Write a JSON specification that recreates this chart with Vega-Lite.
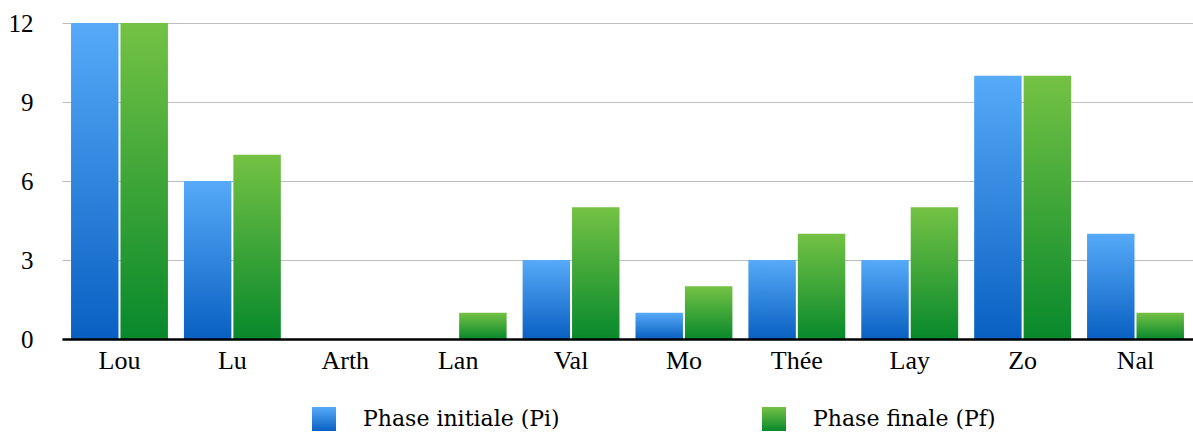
{
  "$schema": "https://vega.github.io/schema/vega-lite/v6.json",
  "width": 1131,
  "height": 316,
  "autosize": {"type": "none"},
  "padding": {"left": 62, "top": 23, "right": 0, "bottom": 95},
  "background": "white",
  "config": {
    "view": {"stroke": null},
    "font": "Liberation Serif",
    "style": {"guide-label": {"font": "Liberation Serif"}},
    "legend": {"labelFont": "Liberation Serif"}
  },
  "data": {
    "values": [
      {"name": "Lou", "phase": "Phase initiale (Pi)", "value": 12},
      {"name": "Lou", "phase": "Phase finale (Pf)", "value": 12},
      {"name": "Lu", "phase": "Phase initiale (Pi)", "value": 6},
      {"name": "Lu", "phase": "Phase finale (Pf)", "value": 7},
      {"name": "Arth", "phase": "Phase initiale (Pi)", "value": 0},
      {"name": "Arth", "phase": "Phase finale (Pf)", "value": 0},
      {"name": "Lan", "phase": "Phase initiale (Pi)", "value": 0},
      {"name": "Lan", "phase": "Phase finale (Pf)", "value": 1},
      {"name": "Val", "phase": "Phase initiale (Pi)", "value": 3},
      {"name": "Val", "phase": "Phase finale (Pf)", "value": 5},
      {"name": "Mo", "phase": "Phase initiale (Pi)", "value": 1},
      {"name": "Mo", "phase": "Phase finale (Pf)", "value": 2},
      {"name": "Thée", "phase": "Phase initiale (Pi)", "value": 3},
      {"name": "Thée", "phase": "Phase finale (Pf)", "value": 4},
      {"name": "Lay", "phase": "Phase initiale (Pi)", "value": 3},
      {"name": "Lay", "phase": "Phase finale (Pf)", "value": 5},
      {"name": "Zo", "phase": "Phase initiale (Pi)", "value": 10},
      {"name": "Zo", "phase": "Phase finale (Pf)", "value": 10},
      {"name": "Nal", "phase": "Phase initiale (Pi)", "value": 4},
      {"name": "Nal", "phase": "Phase finale (Pf)", "value": 1}
    ]
  },
  "encoding": {
    "x": {
      "field": "name",
      "type": "nominal",
      "sort": null,
      "scale": {"domain": ["Lou", "Lu", "Arth", "Lan", "Val", "Mo", "Thée", "Lay", "Zo", "Nal"], "paddingInner": 0.1416, "paddingOuter": 0.08},
      "axis": {
        "title": null,
        "labelAngle": 0,
        "labelFont": "Liberation Serif",
        "labelFontSize": 26,
        "labelColor": "#000000",
        "labelPadding": 8,
        "ticks": false,
        "domain": true,
        "domainColor": "#000000",
        "domainWidth": 2.5,
        "grid": false,
        "zindex": 1
      }
    },
    "xOffset": {
      "field": "phase",
      "type": "nominal",
      "scale": {"domain": ["Phase initiale (Pi)", "Phase finale (Pf)"], "paddingInner": 0.04}
    },
    "y": {
      "field": "value",
      "type": "quantitative",
      "scale": {"domain": [0, 12], "nice": false},
      "axis": {
        "title": null,
        "values": [0, 3, 6, 9, 12],
        "labelFont": "Liberation Serif",
        "labelFontSize": 25,
        "labelColor": "#000000",
        "labelPadding": 29,
        "ticks": false,
        "domain": false,
        "grid": true,
        "gridColor": "#bdbdbd",
        "gridWidth": 1
      }
    }
  },
  "resolve": {"scale": {"stroke": "independent"}, "legend": {"stroke": "independent"}},
  "layer": [
    {
      "transform": [{"filter": "datum.phase === 'Phase initiale (Pi)'"}],
      "mark": {
        "type": "bar",
        "strokeWidth": 0,
        "color": {"gradient": "linear", "x1": 0, "y1": 0, "x2": 0, "y2": 1, "stops": [{"offset": 0, "color": "#56aaf8"}, {"offset": 1, "color": "#0a60c2"}]}
      },
      "encoding": {
        "stroke": {
          "field": "phase",
          "type": "nominal",
          "scale": {"domain": ["Phase initiale (Pi)"], "range": ["#2f86e0"]},
          "legend": {
            "title": null,
            "orient": "none",
            "legendX": 250,
            "legendY": 384,
            "symbolType": "square",
            "symbolSize": 576,
            "symbolStrokeWidth": 0,
            "labelFont": "DejaVu Serif",
            "labelFontSize": 22,
            "labelColor": "#000000",
            "labelOffset": 27,
            "labelLimit": 400
          }
        }
      }
    },
    {
      "transform": [{"filter": "datum.phase === 'Phase finale (Pf)'"}],
      "mark": {
        "type": "bar",
        "strokeWidth": 0,
        "color": {"gradient": "linear", "x1": 0, "y1": 0, "x2": 0, "y2": 1, "stops": [{"offset": 0, "color": "#74c244"}, {"offset": 1, "color": "#08892c"}]}
      },
      "encoding": {
        "stroke": {
          "field": "phase",
          "type": "nominal",
          "scale": {"domain": ["Phase finale (Pf)"], "range": ["#3ea63a"]},
          "legend": {
            "title": null,
            "orient": "none",
            "legendX": 700,
            "legendY": 384,
            "symbolType": "square",
            "symbolSize": 576,
            "symbolStrokeWidth": 0,
            "labelFont": "DejaVu Serif",
            "labelFontSize": 22,
            "labelColor": "#000000",
            "labelOffset": 27,
            "labelLimit": 400
          }
        }
      }
    }
  ]
}
